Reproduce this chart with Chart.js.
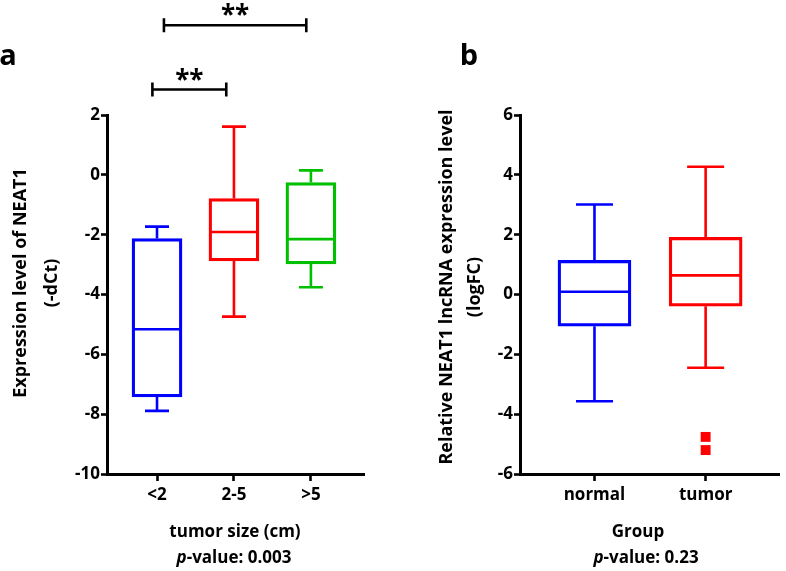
<!DOCTYPE html>
<html>
<head>
<meta charset="utf-8">
<script src="https://cdn.jsdelivr.net/npm/chart.js@4.4.1/dist/chart.umd.min.js"></script>
<style>
  body { margin: 0; background: #fff; }
  #wrap { position: relative; width: 786px; height: 571px; }
  canvas { position: absolute; top: 0; }
</style>
</head>
<body>
<div id="wrap">
  <canvas id="chartA" width="393" height="571" style="left:0"></canvas>
  <canvas id="chartB" width="393" height="571" style="left:393px"></canvas>
</div>
<script>
// panel a: NEAT1 by tumor size
const sizeLabels = ['<2', '2-5', '>5'];
const sizeMin = [-7.89, -4.74, -3.76];
const sizeQ1 = [-7.42, -2.88, -2.98];
const sizeMedian = [-5.16, -1.91, -2.15];
const sizeQ3 = [-2.13, -0.79, -0.26];
const sizeMax = [-1.73, 1.61, 0.15];
// significance brackets: from, to, level
const sizeBrackets = [[0.94, 1.9, 2.85], [1.09, 2.94, 5.0]];

// panel b: normal vs tumor
const groupLabels = ['normal', 'tumor'];
const groupMin = [-3.57, -2.45];
const groupQ1 = [-1.06, -0.39];
const groupMedian = [0.09, 0.64];
const groupQ3 = [1.14, 1.91];
const groupMax = [3.01, 4.27];
const tumorOutliers = [-4.76, -5.2];

const FONT = '"Open Sans"';

function drawPanel(canvasId, p) {
    var n = p.labels.length;

    var datasets = [{
        type: 'bar',
        data: p.labels.map(function(l, i) { return {x: i + 1, y: [p.q1[i], p.q3[i]]}; }),
        backgroundColor: 'rgba(0,0,0,0)',
        borderColor: p.colors,
        borderWidth: 2.6,
        borderSkipped: false,
        barThickness: p.boxW
    }];
    if (p.outliers) {
        datasets.push({
            type: 'scatter',
            data: p.outliers.map(function(v) { return {x: p.outlierAt, y: v}; }),
            pointStyle: 'rect',
            pointRadius: 7,
            backgroundColor: p.colors[p.outlierAt - 1],
            borderWidth: 0
        });
    }

    var extras = {
        id: 'extras',
        afterDatasetsDraw: function(chart) {
            var c = chart.ctx, X = chart.scales.x, Y = chart.scales.y;
            c.save();
            c.lineWidth = 2.6;
            for (let i = 0; i < n; i++) {
                var x = X.getPixelForValue(i + 1);
                var yMax = Y.getPixelForValue(p.max[i]), yMin = Y.getPixelForValue(p.min[i]);
                var yMed = Y.getPixelForValue(p.median[i]);
                c.strokeStyle = p.colors[i];
                c.beginPath();
                // whiskers
                c.moveTo(x, Y.getPixelForValue(p.q3[i])); c.lineTo(x, yMax);
                c.moveTo(x, Y.getPixelForValue(p.q1[i])); c.lineTo(x, yMin);
                // caps
                c.moveTo(x - p.capW / 2, yMax); c.lineTo(x + p.capW / 2, yMax);
                c.moveTo(x - p.capW / 2, yMin); c.lineTo(x + p.capW / 2, yMin);
                // median
                c.moveTo(x - p.boxW / 2 + 1, yMed); c.lineTo(x + p.boxW / 2 - 1, yMed);
                c.stroke();
            }
            c.restore();
        },
        afterDraw: function(chart) {
            var c = chart.ctx, X = chart.scales.x, Y = chart.scales.y;
            c.save();
            c.fillStyle = '#000';
            c.strokeStyle = '#000';
            c.textAlign = 'center';
            c.textBaseline = 'middle';

            // y title, two lines rotated
            c.font = 'bold 18px ' + FONT;
            p.yTitle.forEach(function(t, k) {
                c.save();
                c.translate(p.yTitleX[k], p.yTitleY);
                c.rotate(-Math.PI / 2);
                c.fillText(t, 0, 0);
                c.restore();
            });

            // x title
            c.font = 'bold 17px ' + FONT;
            c.fillText(p.xTitle, p.xTitleX, 532);

            // p-value line with italic p
            var rest = '-value: ' + p.pValue;
            c.font = 'bold italic 17px ' + FONT;
            var w1 = c.measureText('p').width;
            c.font = 'bold 17px ' + FONT;
            var w2 = c.measureText(rest).width;
            var left = p.pX - (w1 + w2) / 2;
            c.textAlign = 'left';
            c.font = 'bold italic 17px ' + FONT;
            c.fillText('p', left, 558);
            c.font = 'bold 17px ' + FONT;
            c.fillText(rest, left + w1, 558);

            // panel letter
            c.textAlign = 'center';
            c.textBaseline = 'alphabetic';
            c.font = 'bold 29px ' + FONT;
            c.fillText(p.letter, p.letterX, 65);

            // brackets
            if (p.brackets) {
                c.lineWidth = 2.6;
                p.brackets.forEach(function(b) {
                    var x1 = X.getPixelForValue(b[0]), x2 = X.getPixelForValue(b[1]);
                    var y = Y.getPixelForValue(b[2]);
                    c.beginPath();
                    c.moveTo(x1, y); c.lineTo(x2, y);
                    c.moveTo(x1, y - 7); c.lineTo(x1, y + 7);
                    c.moveTo(x2, y - 7); c.lineTo(x2, y + 7);
                    c.stroke();
                    c.font = 'bold 26px ' + FONT;
                    c.textBaseline = 'alphabetic';
                    c.fillText('**', (x1 + x2) / 2, y - 1);
                });
            }
            c.restore();
        }
    };

    var axisBorder = {display: true, color: '#000', width: 3};

    return new Chart(document.getElementById(canvasId), {
        data: {datasets: datasets},
        options: {
            responsive: false,
            animation: false,
            devicePixelRatio: 1,
            layout: {padding: {left: 0, top: 115, right: p.padRight, bottom: 0}},
            plugins: {legend: {display: false}, tooltip: {enabled: false}},
            scales: {
                x: {
                    type: 'linear',
                    offset: false,
                    min: p.xMin,
                    max: p.xMax,
                    grid: {display: true, offset: false, drawOnChartArea: false, drawTicks: true, tickLength: 7, tickWidth: 2.6, tickColor: '#000'},
                    border: axisBorder,
                    afterBuildTicks: function(scale) {
                        scale.ticks = p.labels.map(function(l, i) { return {value: i + 1}; });
                    },
                    afterFit: function(scale) { scale.height = 97; },
                    ticks: {
                        color: '#000',
                        padding: 4,
                        maxRotation: 0,
                        font: {family: 'Open Sans', size: 17, weight: 'bold'},
                        callback: function(v) { return p.labels[v - 1]; }
                    }
                },
                y: {
                    min: p.yMin,
                    max: p.yMax,
                    grid: {display: true, drawOnChartArea: false, drawTicks: true, tickLength: 6, tickWidth: 2.6, tickColor: '#000'},
                    border: axisBorder,
                    afterFit: function(scale) { scale.width = p.yWidth; },
                    ticks: {
                        stepSize: 2,
                        color: '#000',
                        padding: 1,
                        font: {family: 'Open Sans', size: 17, weight: 'bold'}
                    }
                }
            }
        },
        plugins: [extras]
    });
}

drawPanel('chartA', {
    labels: sizeLabels, min: sizeMin, q1: sizeQ1, median: sizeMedian, q3: sizeQ3, max: sizeMax,
    colors: ['#0000ff', '#ff0000', '#00c000'],
    xMin: 0.35, xMax: 3.69, yMin: -10, yMax: 2,
    boxW: 50, capW: 24, yWidth: 107, padRight: 29,
    yTitle: ['Expression level of NEAT1', '(-dCt)'], yTitleX: [21, 52], yTitleY: 283,
    xTitle: 'tumor size (cm)', xTitleX: 235, pValue: '0.003', pX: 234,
    letter: 'a', letterX: 8,
    brackets: sizeBrackets
});

drawPanel('chartB', {
    labels: groupLabels, min: groupMin, q1: groupQ1, median: groupMedian, q3: groupQ3, max: groupMax,
    colors: ['#0000ff', '#ff0000'],
    xMin: 0.33, xMax: 2.66, yMin: -6, yMax: 6,
    boxW: 73, capW: 37, yWidth: 127, padRight: 3,
    yTitle: ['Relative NEAT1 lncRNA expression level', '(logFC)'], yTitleX: [54, 82], yTitleY: 287,
    xTitle: 'Group', xTitleX: 245, pValue: '0.23', pX: 253,
    letter: 'b', letterX: 76,
    outliers: tumorOutliers, outlierAt: 2
});
</script>
</body>
</html>
